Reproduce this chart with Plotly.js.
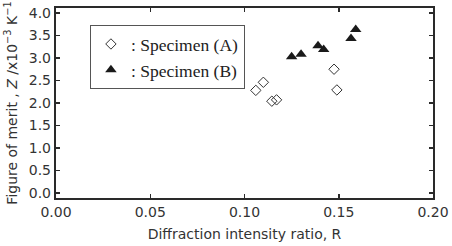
<!DOCTYPE html>
<html>
<head>
<meta charset="utf-8">
<script src="https://cdn.plot.ly/plotly-3.0.1.min.js"></script>
<style>html,body{margin:0;padding:0;background:#fff;}#chart{width:452px;height:246px;}</style>
</head>
<body>
<div id="chart"></div>
<script>
// Specimen (A): diffraction intensity ratio R vs figure of merit Z (x10^-3 K^-1)
const ratioA = [0.106, 0.110, 0.1145, 0.117, 0.1475, 0.149];
const meritA = [2.28, 2.46, 2.04, 2.07, 2.75, 2.29];
// Specimen (B)
const ratioB = [0.125, 0.130, 0.139, 0.142, 0.1565, 0.159];
const meritB = [3.03, 3.08, 3.27, 3.19, 3.43, 3.63];

const nameA = ': Specimen (A)';
const nameB = ': Specimen (B)';
const xTicks = [0, 0.05, 0.10, 0.15, 0.20];
const yTicks = [0, 0.5, 1.0, 1.5, 2.0, 2.5, 3.0, 3.5, 4.0];

const sans = 'DejaVu Sans, Arial, sans-serif';
const textColor = '#333';

const axisCommon = {
  showline: true, linecolor: '#2a2a2a', linewidth: 2.2, mirror: 'ticks',
  ticks: 'inside', ticklen: 4, tickwidth: 1.5, tickcolor: '#2a2a2a',
  showgrid: false, zeroline: false, automargin: false,
  tickfont: {family: sans, size: 14, color: textColor}
};

const traces = [
  {x: ratioA, y: meritA, name: nameA, type: 'scatter', mode: 'markers',
   marker: {symbol: 'diamond-open', size: 8, color: '#333', line: {width: 1, color: '#333'}}},
  {x: ratioB, y: meritB, name: nameB, type: 'scatter', mode: 'markers',
   marker: {symbol: 'triangle-up', size: 10, color: '#1a1a1a'}}
];

const layout = {
  width: 452, height: 246,
  margin: {l: 56, r: 19, t: 8, b: 48},
  paper_bgcolor: '#fff', plot_bgcolor: '#fff',
  showlegend: true,
  legend: {
    x: 0.09, y: 0.91, xanchor: 'left', yanchor: 'top',
    bordercolor: '#555', borderwidth: 1, bgcolor: '#fff',
    font: {family: 'Liberation Serif, Times New Roman, serif', size: 17.5, color: '#222'},
    itemwidth: 30, tracegroupgap: 0
  },
  xaxis: Object.assign({}, axisCommon, {
    range: [0, 0.2], tickvals: xTicks, tickformat: '.2f',
    title: {text: 'Diffraction intensity ratio, R', standoff: 10,
      font: {family: sans, size: 14, color: textColor}}
  }),
  yaxis: Object.assign({}, axisCommon, {
    range: [-0.11, 4.11], tickvals: yTicks, tickformat: '.1f',
    title: {text: 'Figure of merit , <i>Z</i> /x10<sup>−3</sup> K<sup>−1</sup>', standoff: 8,
      font: {family: sans, size: 14, color: textColor}}
  })
};

Plotly.newPlot('chart', traces, layout, {displayModeBar: false, staticPlot: true});
</script>
</body>
</html>
